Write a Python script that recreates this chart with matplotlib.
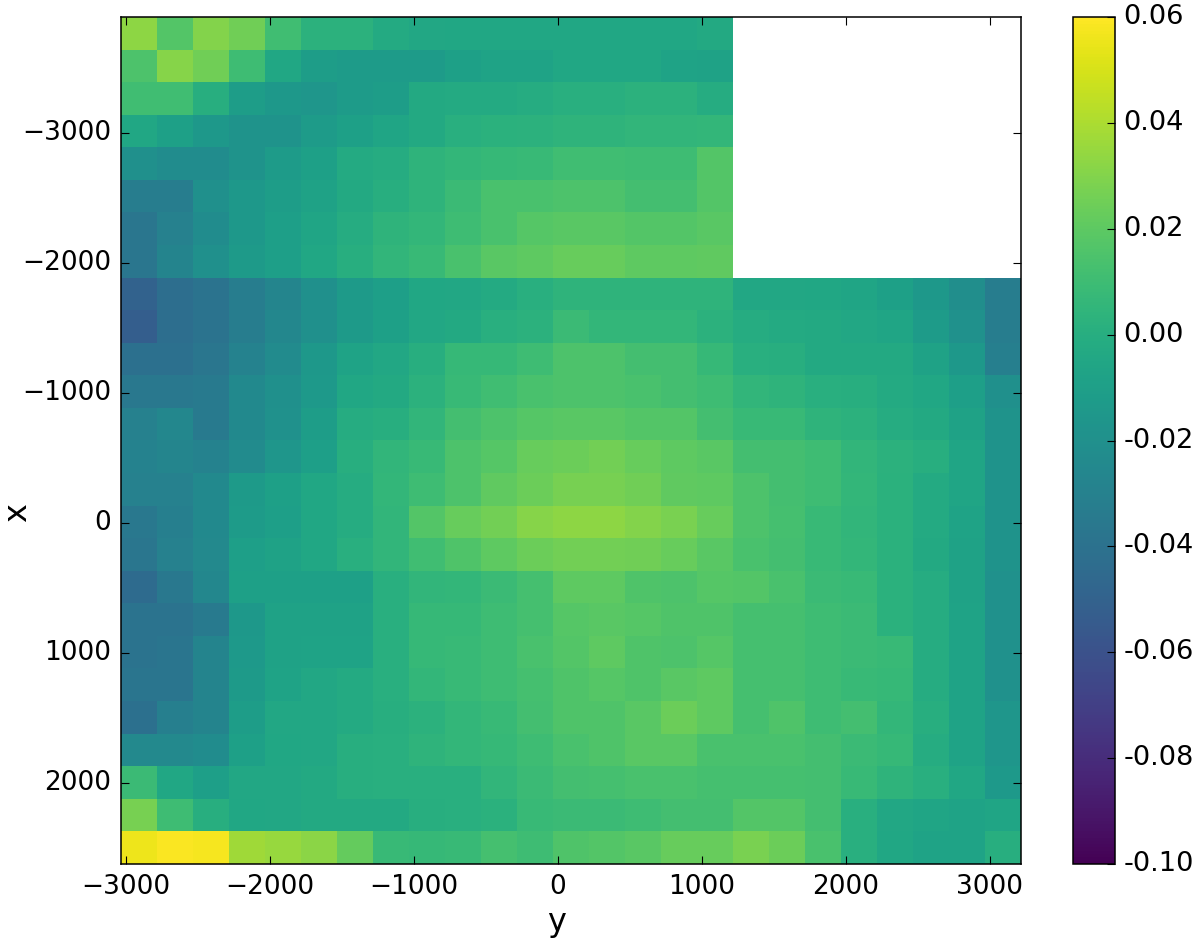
import numpy as np
import matplotlib
matplotlib.use("Agg")
import matplotlib.pyplot as plt

n = np.nan
# cell values in thousandths, one list per row from top to bottom
row_00 = [33,17,30,25,11,3,3,-2,-4,-5,-5,-5,-5,-5,-5,-5,-3,n,n,n,n,n,n,n,n]
row_01 = [15,31,25,10,-5,-11,-12,-12,-12,-9,-7,-7,-5,-5,-5,-7,-8,n,n,n,n,n,n,n,n]
row_02 = [11,11,0,-11,-15,-16,-12,-11,-3,-2,-2,-1,1,1,3,3,-1,n,n,n,n,n,n,n,n]
row_03 = [-5,-9,-15,-18,-18,-12,-9,-6,-3,1,2,3,4,4,5,5,6,n,n,n,n,n,n,n,n]
row_04 = [-20,-22,-22,-18,-12,-9,-2,-1,4,6,7,8,11,11,10,10,17,n,n,n,n,n,n,n,n]
row_05 = [-32,-32,-20,-15,-11,-8,-3,0,4,9,14,14,15,15,12,12,17,n,n,n,n,n,n,n,n]
row_06 = [-37,-30,-22,-15,-10,-6,-1,4,6,10,14,18,19,19,17,17,19,n,n,n,n,n,n,n,n]
row_07 = [-37,-28,-20,-13,-10,-5,0,5,8,14,19,20,23,23,20,20,21,n,n,n,n,n,n,n,n]
row_08 = [-50,-42,-39,-32,-27,-20,-13,-10,-5,-4,-2,1,4,4,4,4,4,-4,-4,-5,-6,-9,-15,-21,-32]
row_09 = [-52,-42,-39,-32,-26,-20,-13,-9,-4,-3,1,3,9,6,6,6,3,-1,-2,-3,-4,-6,-12,-19,-32]
row_10 = [-41,-41,-37,-29,-23,-15,-7,-4,0,7,7,10,15,15,12,12,7,1,0,-3,-3,-3,-8,-15,-31]
row_11 = [-36,-36,-35,-24,-20,-14,-5,-3,3,8,11,14,15,15,14,12,10,5,4,1,0,-2,-5,-10,-20]
row_12 = [-30,-26,-34,-24,-19,-11,-1,0,5,12,15,18,19,19,17,17,12,8,8,4,3,-1,-3,-8,-18]
row_13 = [-29,-27,-29,-23,-16,-10,0,5,8,15,18,23,24,26,23,20,19,12,12,10,5,3,0,-6,-18]
row_14 = [-30,-30,-24,-13,-9,-5,-1,6,10,15,21,24,27,27,25,21,20,15,12,10,6,2,-2,-6,-18]
row_15 = [-36,-31,-24,-12,-10,-5,-1,5,17,23,26,31,33,33,30,28,23,15,13,8,5,2,-2,-7,-18]
row_16 = [-37,-30,-25,-10,-8,-5,1,5,11,16,20,24,26,26,25,23,19,14,12,8,6,2,-3,-8,-18]
row_17 = [-44,-36,-26,-9,-9,-9,-9,1,5,6,9,13,20,20,16,15,18,17,14,9,8,2,-1,-8,-19]
row_18 = [-39,-39,-34,-15,-8,-8,-8,1,7,7,10,13,18,19,18,16,16,13,13,10,9,2,-1,-7,-19]
row_19 = [-39,-38,-28,-14,-8,-7,-7,1,7,8,10,14,17,20,16,15,18,13,13,10,9,8,-1,-7,-19]
row_20 = [-38,-38,-28,-13,-7,-4,-2,1,6,8,10,13,16,18,16,19,20,13,13,10,8,7,-1,-7,-19]
row_21 = [-41,-31,-28,-11,-4,-4,-2,0,3,6,8,12,16,16,19,24,20,13,16,10,12,6,0,-7,-16]
row_22 = [-25,-25,-22,-9,-5,-4,0,1,4,6,7,10,14,16,19,19,14,14,14,12,9,7,-1,-7,-16]
row_23 = [9,-5,-10,-4,-4,-3,0,1,1,1,5,9,12,13,14,14,13,13,13,12,8,4,1,-5,-14]
row_24 = [27,10,0,-5,-4,-3,-3,-3,0,1,2,8,9,9,10,12,12,17,17,12,1,-4,-6,-7,-6]
row_25 = [56,59,58,37,35,32,22,8,7,8,13,10,16,17,19,23,23,28,24,14,1,-5,-7,-7,0]

rows = [row_00,row_01,row_02,row_03,row_04,row_05,row_06,row_07,row_08,row_09,
        row_10,row_11,row_12,row_13,row_14,row_15,row_16,row_17,row_18,row_19,
        row_20,row_21,row_22,row_23,row_24,row_25]

x_ticks = [-3000,-2000,-1000,0,1000,2000,3000]
y_ticks = [-3000,-2000,-1000,0,1000,2000]
cbar_ticks = [-0.10,-0.08,-0.06,-0.04,-0.02,0.00,0.02,0.04,0.06]

plt.rcParams["ytick.alignment"] = "center"

W, H = 1200, 939
fig = plt.figure(figsize=(W/100, H/100), dpi=100)
L, R, T, B = 121, 1020.5, 17.3, 864
ax = fig.add_axes([L/W, 1-B/H, (R-L)/W, (B-T)/H])
Z = np.array(rows, dtype=float)/1000
im = ax.imshow(Z, cmap="viridis", vmin=-0.10, vmax=0.06, aspect="auto",
               extent=(-3035, 3215, 2623, -3888), interpolation="nearest")
ax.set_xticks(x_ticks)
ax.set_yticks(y_ticks)
ax.tick_params(axis="both", direction="in", top=True, right=True, length=6,
               width=0.8, labelsize=19, pad=7, colors="black")
ax.set_xlabel("y", fontsize=23, labelpad=5)
ax.xaxis.label.set_x((557-L)/(R-L))
ax.set_ylabel("x", fontsize=23)
ax.yaxis.set_label_coords((33-L)/(R-L), (B-513)/(B-T))
for s in ax.spines.values():
    s.set_linewidth(1.1)

cax = fig.add_axes([1073/W, 1-B/H, 42/W, (B-T)/H])
cb = fig.colorbar(im, cax=cax, ticks=cbar_ticks, format="%.2f")
cb.ax.tick_params(direction="in", length=6, width=0.8, labelsize=19.6, pad=6)
cb.outline.set_linewidth(1.1)

fig.savefig("out.png", dpi=100)
